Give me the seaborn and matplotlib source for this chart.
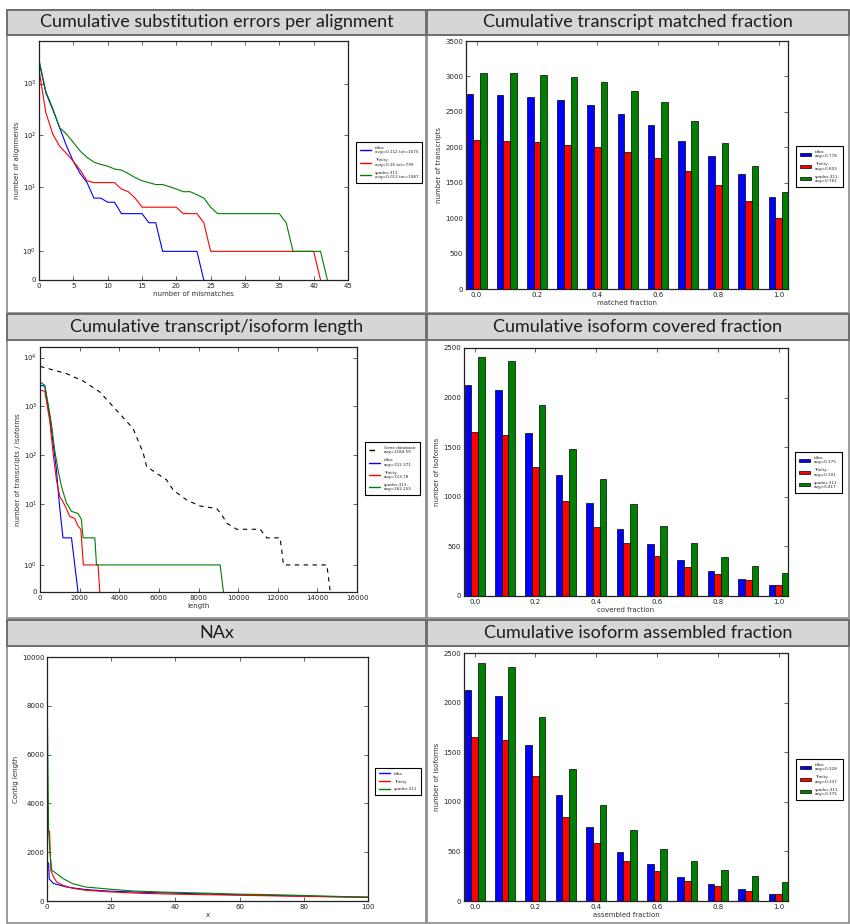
"""
plot.py
=======
Six-panel assembly quality overview (substitution errors, matched / covered /
assembled fractions, transcript length, NAx), laid out like a slide with grey
title banners.  Saves out.png (850x924 px).
"""

import numpy as np
import pandas as pd
import matplotlib
matplotlib.use("Agg")
import matplotlib.pyplot as plt
from matplotlib.patches import Rectangle
from matplotlib.lines import Line2D
import seaborn as sns

W, H = 850, 924

# ─── data ─────────────────────────────────────────────────────────────────────
COLORS = ["#0000ff", "#ff0000", "#008000"]

# substitution errors per alignment (x = number of mismatches)
mism_idba = [2700, 660, 316, 140, 62, 31, 18, 12, 6, 6, 5, 5, 3, 3, 3, 3, 2, 2,
             1, 1, 1, 1, 1, 1, 0]
mism_trinity = [1850, 273, 105, 61, 44, 31, 21, 13, 12, 12, 12, 12, 9, 8, 6, 4,
                4, 4, 4, 4, 4, 3, 3, 3, 2, 1, 1, 1, 1, 1, 1, 1, 1, 1, 1, 1,
                1, 1, 1, 1, 1, 0]
mism_spades = [2900, 700, 330, 140, 105, 72, 49, 37, 30, 27, 25, 22, 21, 18, 15,
               13, 12, 11, 11, 10, 9, 8, 8, 7, 6, 4, 3, 3, 3, 3, 3, 3, 3, 3,
               3, 3, 2, 1, 1, 1, 1, 1, 0]
mism_labels = ["idba:\navg=0.112 tot=1675", "Trinity:\navg=0.16 tot=799",
               "spades.311:\navg=0.013 tot=1987"]

# bar panels: x positions
frac_x = [0.0, 0.1, 0.2, 0.3, 0.4, 0.5, 0.6, 0.7, 0.8, 0.9, 1.0]

matched_idba = [2748, 2738, 2715, 2673, 2597, 2471, 2311, 2095, 1874, 1625, 1296]
matched_trinity = [2100, 2095, 2071, 2038, 2005, 1940, 1846, 1663, 1461, 1240, 1005]
matched_spades = [3048, 3044, 3020, 2997, 2922, 2799, 2640, 2372, 2062, 1738, 1372]
matched_labels = ["idba:\navg=0.778", "Trinity:\navg=0.803", "spades.311:\navg=0.761"]

covered_idba = [2129, 2079, 1647, 1216, 933, 680, 522, 360, 256, 172, 111]
covered_trinity = [1657, 1620, 1304, 953, 697, 536, 408, 293, 219, 158, 115]
covered_spades = [2405, 2368, 1927, 1479, 1176, 923, 707, 536, 398, 307, 229]
covered_labels = ["idba:\navg=0.375", "Trinity:\navg=0.301", "spades.311:\navg=0.417"]

assembled_idba = [2123, 2069, 1575, 1070, 744, 495, 370, 246, 175, 118, 74]
assembled_trinity = [1649, 1619, 1262, 851, 585, 407, 303, 202, 148, 104, 71]
assembled_spades = [2399, 2359, 1857, 1333, 966, 717, 528, 407, 313, 252, 195]
assembled_labels = ["idba:\navg=0.328", "Trinity:\navg=0.337", "spades.311:\navg=0.375"]

# transcript / isoform length
gene_len_x = [0, 1330, 2180, 3020, 3860, 4700, 5210, 5380, 6390, 6730, 7400,
              8080, 8920, 9170, 9430, 9930, 11110, 11450, 12120, 12290, 14480, 14650]
gene_len_y = [6600, 4700, 3300, 1970, 830, 350, 110, 58, 31, 19, 12, 9, 8, 6,
              4, 3, 3, 2, 2, 1, 1, 0]
idba_len_x = [0, 240, 490, 660, 830, 910, 1000, 1160, 1590, 1920]
idba_len_y = [2700, 2600, 600, 175, 50, 20, 8, 2, 2, 0]
trinity_len_x = [0, 240, 490, 660, 830, 1000, 1160, 1330, 1500, 1750, 1920,
                 2060, 2190, 2930, 3020]
trinity_len_y = [2130, 2050, 515, 109, 31, 14, 11, 8, 5.5, 5, 3.5, 3, 1, 1, 0]
spades_len_x = [0, 240, 405, 573, 742, 910, 1080, 1330, 1590, 1920, 2090,
                2175, 2770, 2850, 9090, 9260]
spades_len_y = [3170, 2700, 1150, 450, 126, 50, 23, 10.5, 7, 6.3, 4.8, 2, 2,
                1, 1, 0]
len_labels = ["Gene database:\navg=1184.59", "idba:\navg=312.371",
              "Trinity:\navg=313.78", "spades.311:\navg=262.155"]

# NAx
nax_idba_x = [0, 0.5, 0.7, 2, 6, 12, 20, 37, 58, 79, 100]
nax_idba_y = [1600, 1550, 900, 720, 575, 470, 400, 330, 260, 205, 150]
nax_trinity_x = [0, 0.8, 1.2, 2, 3, 5, 8, 12, 20, 30, 44, 58, 79, 100]
nax_trinity_y = [2950, 2850, 1250, 1000, 780, 640, 520, 440, 370, 310, 270,
                 240, 190, 150]
nax_spades_x = [0, 0.5, 1, 1.5, 3, 5, 8, 12, 20, 27, 35, 44, 50, 60, 70, 80, 90, 100]
nax_spades_y = [9180, 2840, 1880, 1260, 1120, 920, 710, 575, 480, 410, 370,
                340, 320, 280, 260, 225, 190, 160]
nax_labels = ["idba", "Trinity", "spades.311"]

TITLES = ["Cumulative substitution errors per alignment",
          "Cumulative transcript matched fraction",
          "Cumulative transcript/isoform length",
          "Cumulative isoform covered fraction",
          "NAx",
          "Cumulative isoform assembled fraction"]

# ─── style ────────────────────────────────────────────────────────────────────
sns.set_style("ticks")
plt.rcParams["font.family"] = ["DejaVu Sans"]
plt.rcParams["axes.edgecolor"] = "#222222"
plt.rcParams["axes.linewidth"] = 0.9

TICK_FS = 5.0
LAB_FS = 5.0
LEG_FS = 3.0


# ─── helpers ──────────────────────────────────────────────────────────────────
def px_axes(fig, left, top, right, bottom):
    return fig.add_axes([left / W, 1 - bottom / H, (right - left) / W, (bottom - top) / H])


def banner(fig, x0, x1, y0, y1, text):
    fig.patches.append(Rectangle((x0 / W, 1 - y1 / H), (x1 - x0) / W, (y1 - y0) / H,
                                 transform=fig.transFigure, facecolor="#d6d6d6",
                                 edgecolor="#6e6e6e", linewidth=1.4, zorder=2))
    fig.text((x0 + x1) / 2 / W, 1 - (y0 + y1) / 2 / H, text, ha="center", va="center",
             fontsize=13, family="Lato", color="#1c1c1c", zorder=3)


def style_axes(ax, xlabel, ylabel):
    ax.tick_params(direction="in", top=True, right=True, length=3, width=0.5,
                   labelsize=TICK_FS, pad=2, colors="#222222")
    ax.tick_params(which="minor", length=0)
    ax.set_xlabel(xlabel, fontsize=LAB_FS, labelpad=1.5, color="#333333")
    ax.set_ylabel(ylabel, fontsize=LAB_FS, labelpad=2, color="#333333")


def place_legend(fig, ax, handles, labels, x, y):
    leg = ax.legend(handles, labels, loc="upper left",
                    bbox_to_anchor=(x / W, 1 - y / H), bbox_transform=fig.transFigure,
                    fontsize=LEG_FS, frameon=True, fancybox=False, framealpha=1,
                    edgecolor="black", borderpad=0.9, labelspacing=0.9,
                    handlelength=2.6, handletextpad=1.0)
    leg.get_frame().set_linewidth(0.8)
    return leg


def symlog_ticks(ax, top_exp):
    ax.set_yscale("symlog", linthresh=2, linscale=1)
    ticks = [0] + [10 ** k for k in range(top_exp + 1)]
    ax.set_yticks(ticks)
    ax.set_yticklabels(["0"] + [f"$10^{{{k}}}$" for k in range(top_exp + 1)])
    ax.yaxis.set_minor_locator(matplotlib.ticker.NullLocator())


def line_panel(ax, series, colors, labels, styles):
    for (xs, ys), c, lab, ls in zip(series, colors, labels, styles):
        df = pd.DataFrame({"x": xs, "y": ys})
        sns.lineplot(data=df, x="x", y="y", ax=ax, color=c, label=lab, linestyle=ls,
                     linewidth=0.8, estimator=None, sort=False, legend=False)
    handles = [Line2D([], [], color=c, lw=1.0, linestyle=ls) for c, ls in zip(colors, styles)]
    return handles


def bar_panel(fig, ax, values, labels, ymax, xlabel, ylabel, leg_xy):
    df = pd.DataFrame({
        "frac": frac_x * 3,
        "count": values[0] + values[1] + values[2],
        "tool": [labels[0]] * 11 + [labels[1]] * 11 + [labels[2]] * 11,
    })
    sns.barplot(data=df, x="frac", y="count", hue="tool", hue_order=labels,
                palette=COLORS, native_scale=True, width=0.66, saturation=1,
                edgecolor="black", linewidth=0.5, ax=ax, legend=False)
    ax.set_xlim(-0.035, 1.031)
    ax.set_ylim(0, ymax)
    ax.set_xticks([0.0, 0.2, 0.4, 0.6, 0.8, 1.0])
    ax.set_xticklabels(["0.0", "0.2", "0.4", "0.6", "0.8", "1.0"])
    ax.set_yticks(np.arange(0, ymax + 1, 500))
    style_axes(ax, xlabel, ylabel)
    handles = [Rectangle((0, 0), 1, 1, facecolor=c, edgecolor="black", lw=0.5) for c in COLORS]
    place_legend(fig, ax, handles, labels, *leg_xy)


# ─── main ─────────────────────────────────────────────────────────────────────
def main():
    fig = plt.figure(figsize=(W / 100, H / 100), dpi=100)
    fig.patch.set_facecolor("white")

    # panel frames + banners
    cols = [(7, 426), (427, 849)]
    rows = [(10, 35, 313), (314, 340, 618), (620, 646, 923)]
    for r, (bt, bb, pb) in enumerate(rows):
        for c, (x0, x1) in enumerate(cols):
            fig.patches.append(Rectangle((x0 / W, 1 - pb / H), (x1 - x0) / W, (pb - bt) / H,
                                         transform=fig.transFigure, facecolor="none",
                                         edgecolor="#8a8a8a", linewidth=1.2, zorder=1))
            banner(fig, x0, x1, bt, bb, TITLES[r * 2 + c])

    # 1 ── substitution errors
    ax = px_axes(fig, 39, 41, 348, 280)
    series = [(list(range(len(s))), s) for s in (mism_idba, mism_trinity, mism_spades)]
    handles = line_panel(ax, series, COLORS, mism_labels, ["-"] * 3)
    symlog_ticks(ax, 3)
    ax.set_ylim(0, 6700)
    ax.set_xlim(0, 45)
    ax.set_xticks(range(0, 46, 5))
    style_axes(ax, "number of mismatches", "number of alignments")
    place_legend(fig, ax, handles, mism_labels, 354, 140)

    # 2 ── matched fraction
    ax = px_axes(fig, 466, 41, 788, 289)
    bar_panel(fig, ax, [matched_idba, matched_trinity, matched_spades], matched_labels,
              3500, "matched fraction", "number of transcripts", (794, 144))

    # 3 ── transcript / isoform length
    ax = px_axes(fig, 40, 347, 357, 592)
    series = [(gene_len_x, gene_len_y), (idba_len_x, idba_len_y),
              (trinity_len_x, trinity_len_y), (spades_len_x, spades_len_y)]
    handles = line_panel(ax, series, ["black"] + COLORS, len_labels,
                         [(0, (4, 4)), "-", "-", "-"])
    symlog_ticks(ax, 4)
    ax.set_ylim(0, 16500)
    ax.set_xlim(0, 16000)
    ax.set_xticks(range(0, 16001, 2000))
    style_axes(ax, "length", "number of transcripts / isoforms")
    place_legend(fig, ax, handles, len_labels, 363, 440)

    # 4 ── covered fraction
    ax = px_axes(fig, 464, 348, 788, 596)
    bar_panel(fig, ax, [covered_idba, covered_trinity, covered_spades], covered_labels,
              2500, "covered fraction", "number of isoforms", (793, 450))

    # 5 ── NAx
    ax = px_axes(fig, 47, 657, 368, 901)
    series = [(nax_idba_x, nax_idba_y), (nax_trinity_x, nax_trinity_y),
              (nax_spades_x, nax_spades_y)]
    handles = line_panel(ax, series, COLORS, nax_labels, ["-"] * 3)
    ax.set_xlim(0, 100)
    ax.set_ylim(0, 10000)
    ax.set_xticks(range(0, 101, 20))
    ax.set_yticks(range(0, 10001, 2000))
    style_axes(ax, "x", "Contig length")
    place_legend(fig, ax, handles, nax_labels, 373, 766)

    # 6 ── assembled fraction
    ax = px_axes(fig, 464, 653, 788, 901)
    bar_panel(fig, ax, [assembled_idba, assembled_trinity, assembled_spades],
              assembled_labels, 2500, "assembled fraction", "number of isoforms", (794, 757))

    fig.savefig("out.png", dpi=100)
    plt.close(fig)


if __name__ == "__main__":
    main()
